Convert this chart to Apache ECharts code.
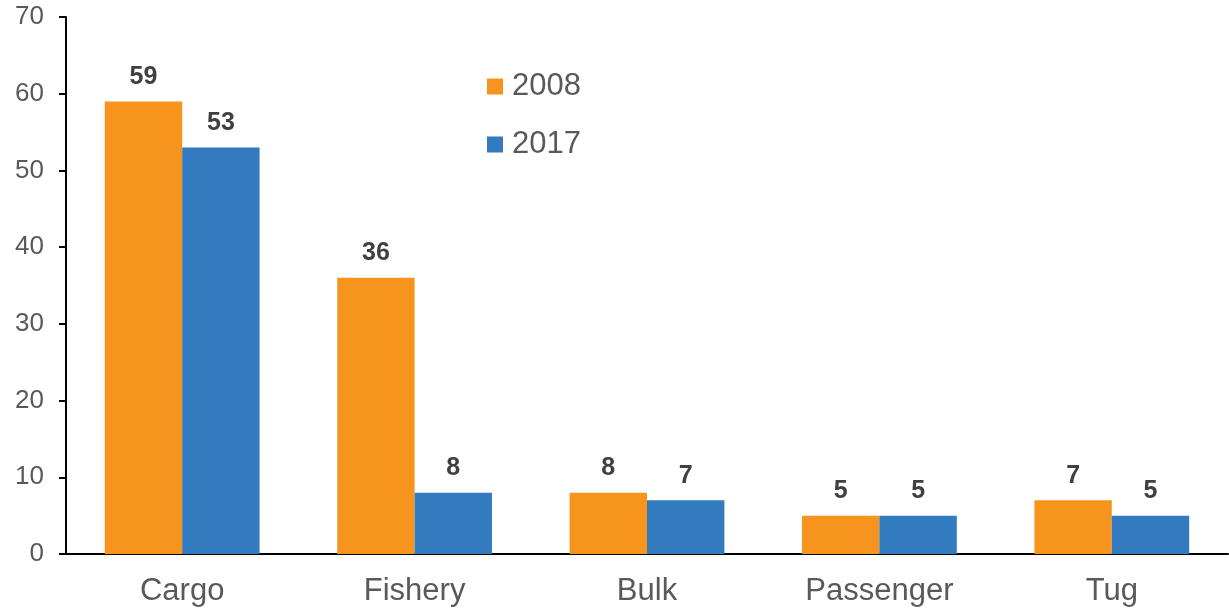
<!DOCTYPE html>
<html><head><meta charset="utf-8">
<script src="https://cdn.jsdelivr.net/npm/echarts@6/dist/echarts.min.js"></script>
<style>html,body{margin:0;padding:0;background:#fff}#c{width:1229px;height:609px}</style>
</head><body><div id="c"></div>
<script>
const categories = ['Cargo','Fishery','Bulk','Passenger','Tug'];
const s2008 = [59,36,8,5,7];
const s2017 = [53,8,7,5,5];
const yTicks = [0,10,20,30,40,50,60,70];
const chart = echarts.init(document.getElementById('c'));
const lbl = {show:true,position:'top',distance:12,fontFamily:'Liberation Sans, Arial',fontWeight:'bold',fontSize:25,color:'#404040'};
chart.setOption({
  animation:false,
  grid:{left:66,right:1,top:17,bottom:55,containLabel:false},
  legend:{orient:'vertical',left:482,top:66,itemWidth:16,itemHeight:16,itemGap:27,icon:'rect',
    textStyle:{fontFamily:'Liberation Sans, Arial',fontSize:31,color:'#595959',padding:[0,0,0,4]},
    data:['2008','2017']},
  xAxis:{type:'category',data:categories,
    axisLine:{lineStyle:{color:'#000',width:2}},axisTick:{show:false},
    axisLabel:{fontFamily:'Liberation Sans, Arial',fontSize:31,color:'#595959',margin:22}},
  yAxis:{type:'value',min:0,max:70,interval:10,
    axisLine:{show:true,lineStyle:{color:'#000',width:2}},
    axisTick:{show:true,length:7,lineStyle:{color:'#000',width:2}},
    splitLine:{show:false},
    axisLabel:{fontFamily:'Liberation Sans, Arial',fontSize:26,color:'#595959',margin:22,
      formatter:v=>yTicks.includes(v)?String(v):''}},
  series:[
    {name:'2008',type:'bar',data:s2008,barWidth:'33.3%',barGap:'0%',itemStyle:{color:'#F7941E'},label:lbl},
    {name:'2017',type:'bar',data:s2017,barWidth:'33.3%',barGap:'0%',itemStyle:{color:'#327BBE'},label:lbl}
  ]
});
</script></body></html>
